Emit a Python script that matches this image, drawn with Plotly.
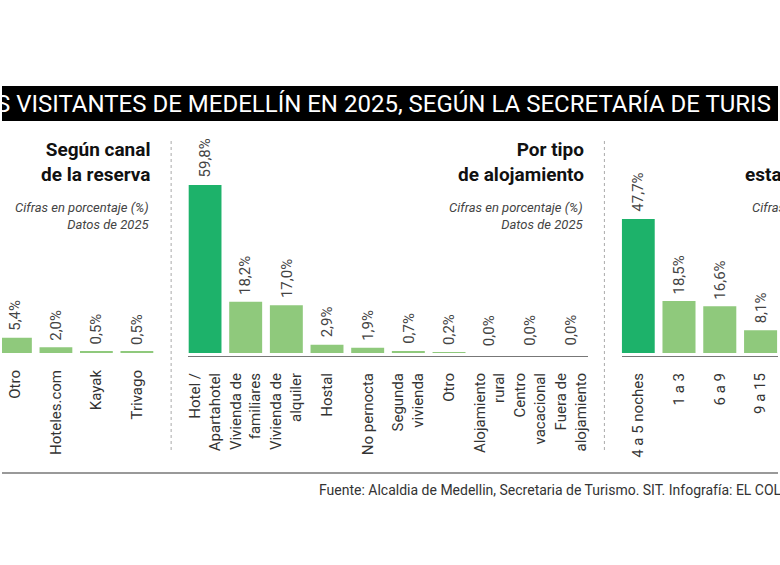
import plotly.graph_objects as go

# datos (cifras en porcentaje, 2025)
canal_cats = ["Otro", "Hoteles.com", "Kayak", "Trivago"]
canal_vals = [5.4, 2.0, 0.5, 0.5]

aloj_cats = ["Hotel /<br>Apartahotel", "Vivienda de<br>familiares", "Vivienda de<br>alquiler",
             "Hostal", "No pernocta", "Segunda<br>vivienda", "Otro", "Alojamiento<br>rural",
             "Centro<br>vacacional", "Fuera de<br>alojamiento"]
aloj_vals = [59.8, 18.2, 17.0, 2.9, 1.9, 0.7, 0.2, 0.0, 0.0, 0.0]

estancia_cats = ["4 a 5 noches", "1 a 3", "6 a 9", "9 a 15"]
estancia_vals = [47.7, 18.5, 16.6, 8.1]

titulo = "S VISITANTES DE MEDELLÍN EN 2025, SEGÚN LA SECRETARÍA DE TURIS"
fuente = "Fuente: Alcaldia de Medellin, Secretaria de Turismo. SIT. Infografía: EL COLOMBIANO"

W, H = 780, 565
DARK = "#1db26a"
LIGHT = "#8fc97c"
FONT = "Roboto"


def px(x):
    return x / W


def py(y):
    return 1 - y / H


def pct(v):
    return f"{v:.1f}".replace(".", ",") + "%"


fig = go.Figure()

paneles = [
    (canal_cats, canal_vals, "x", "y", False),
    (aloj_cats, aloj_vals, "x2", "y2", True),
    (estancia_cats, estancia_vals, "x3", "y3", True),
]

for cats, vals, xa, ya, resaltar in paneles:
    colores = [DARK if (resaltar and v == max(vals)) else LIGHT for v in vals]
    fig.add_bar(x=cats, y=vals, xaxis=xa, yaxis=ya, marker_color=colores,
                marker_line_width=0, showlegend=False, hoverinfo="skip")
    for c, v in zip(cats, vals):
        fig.add_annotation(x=c, y=v, xref=xa, yref=ya, text=pct(v), showarrow=False,
                           textangle=-90, yanchor="bottom", yshift=5,
                           font=dict(family=FONT, size=15, color="#444"))

eje_x = dict(type="category", tickangle=-90, ticks="", showgrid=False, zeroline=False,
             tickfont=dict(family=FONT, size=15, color="#333"), ticklabelstandoff=10,
             linecolor="#777", linewidth=1)
eje_y = dict(range=[-1.07, 75.8], domain=[py(356), py(140)], visible=False)

fig.update_layout(
    width=W, height=H, margin=dict(l=0, r=0, t=0, b=0),
    paper_bgcolor="white", plot_bgcolor="rgba(0,0,0,0)", bargap=0.19,
    xaxis=dict(eje_x, domain=[0, px(160)], range=[-0.332, 3.6], showline=False, anchor="y"),
    xaxis2=dict(eje_x, domain=[px(187.3), px(588.7)], range=[-0.41, 9.41], showline=True, anchor="y2"),
    xaxis3=dict(eje_x, domain=[px(623), 1], range=[-0.402, 3.427], showline=True, anchor="y3"),
    yaxis=dict(eje_y, anchor="x"),
    yaxis2=dict(eje_y, anchor="x2"),
    yaxis3=dict(eje_y, anchor="x3"),
)

# franja negra del titulo
fig.add_shape(type="rect", xref="paper", yref="paper", x0=0, x1=1, y0=py(121), y1=py(86),
              fillcolor="black", line_width=0, layer="below")
fig.add_annotation(xref="paper", yref="paper", x=px(-8), y=py(103.5), xanchor="left", yanchor="middle",
                   text=titulo, showarrow=False, font=dict(family=FONT, size=24, color="white"))

# separadores punteados
for xs in [170, 605.5]:
    fig.add_shape(type="line", xref="paper", yref="paper", x0=px(xs), x1=px(xs), y0=py(141), y1=py(452),
                  line=dict(color="#aaa", width=1, dash="dot"))

# linea inferior y fuente
fig.add_shape(type="line", xref="paper", yref="paper", x0=0, x1=1, y0=py(473), y1=py(473),
              line=dict(color="#777", width=1.3))
fig.add_annotation(xref="paper", yref="paper", x=px(317), y=py(490), xanchor="left", yanchor="middle",
                   text=fuente, showarrow=False, font=dict(family=FONT, size=14, color="#333"))

# titulos de cada panel
titulos = [
    (151, "<b>Según canal<br>de la reserva</b>"),
    (587, "<b>Por tipo<br>de alojamiento</b>"),
]
for xr, txt in titulos:
    fig.add_annotation(xref="paper", yref="paper", x=px(xr), y=py(162), xanchor="right", yanchor="middle",
                       text=txt, align="right", showarrow=False, font=dict(family=FONT, size=19, color="#111"))
    fig.add_annotation(xref="paper", yref="paper", x=px(xr), y=py(215.5), xanchor="right", yanchor="middle",
                       text="<i>Cifras en porcentaje (%)<br>Datos de 2025</i>", align="right", showarrow=False,
                       font=dict(family=FONT, size=13, color="#444"))

# panel derecho, cortado por el borde
fig.add_annotation(xref="paper", yref="paper", x=px(745), y=py(174), xanchor="left", yanchor="middle",
                   text="<b>estancia</b>", showarrow=False, font=dict(family=FONT, size=19, color="#111"))
fig.add_annotation(xref="paper", yref="paper", x=px(752), y=py(207), xanchor="left", yanchor="middle",
                   text="<i>Cifras en porcentaje (%)</i>", showarrow=False,
                   font=dict(family=FONT, size=13, color="#444"))

fig.write_html("out.html", config={"displayModeBar": False},
               post_script="document.body.style.margin='0';")
